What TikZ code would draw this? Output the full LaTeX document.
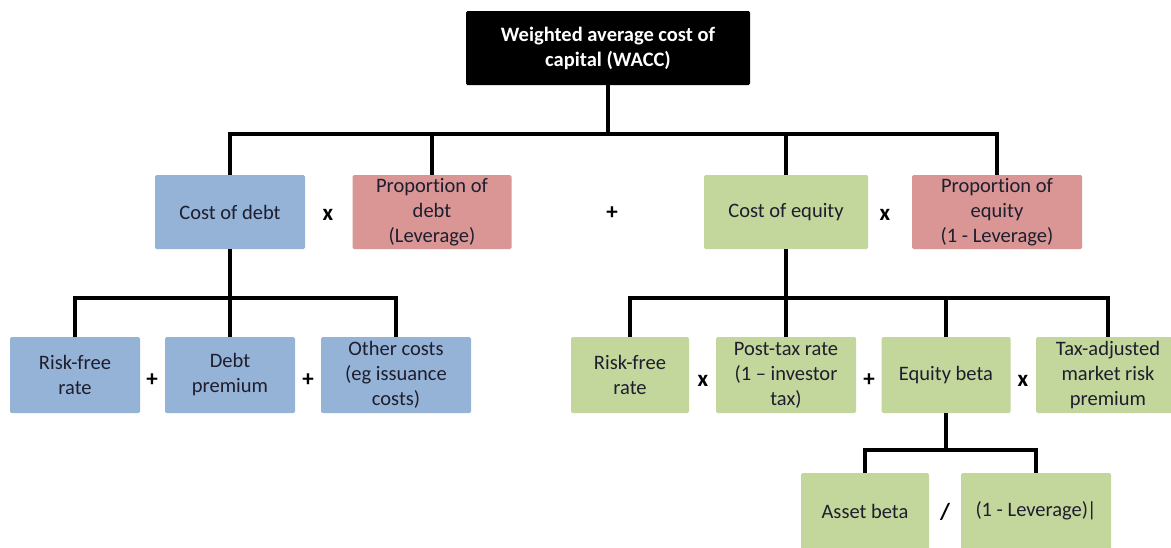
\documentclass[tikz,border=0pt]{standalone}
\usepackage{fontspec}
\setmainfont{Carlito}[Ligatures=NoCommon]
\usetikzlibrary{positioning}

\definecolor{debtblue}{HTML}{95B3D7}
\definecolor{propred}{HTML}{D99694}
\definecolor{eqgreen}{HTML}{C3D69B}
\definecolor{txt}{HTML}{1E1E2E}

\begin{document}
\begin{tikzpicture}[x=1pt,y=-1pt,
    box/.style={rectangle, rounded corners=1.5pt, inner sep=0pt, align=center,
      text=txt, font=\fontsize{20.5}{25}\selectfont},
    top/.style={box, minimum height=74},
    low/.style={box, minimum height=76},
    op/.style={font=\bfseries\fontsize{23}{23}\selectfont},
    tree/.style={to path={(\tikztostart.south) -- ++(0,#1) -| (\tikztotarget.north)}},
    link/.style={line width=4pt}]

  \useasboundingbox (0,0) rectangle (1171,547);

  \node[box, fill=black, text=white, minimum width=284, minimum height=74,
    font=\bfseries\fontsize{20.5}{25}\selectfont] (0) at (608,48) {Weighted average cost of\\capital (WACC)};

  % first level
  \node[top, fill=debtblue, minimum width=150] (1) at (230,212) {Cost of debt};
  \node[top, fill=propred, minimum width=159] (2) at (432,212) {Proportion of\\debt\\(Leverage)};
  \node[top, fill=eqgreen, minimum width=164] (3) at (786,212) {Cost of equity};
  \node[top, fill=propred, minimum width=170] (4) at (997,212) {Proportion of\\equity\\(1 - Leverage)};

  % second level
  \node[low, fill=debtblue, minimum width=130] (5) at (75,375) {Risk-free\\rate};
  \node[low, fill=debtblue, minimum width=130] (6) at (230,375) {Debt\\premium};
  \node[low, fill=debtblue, minimum width=150] (7) at (396,375) {Other costs\\(eg issuance\\costs)};
  \node[low, fill=eqgreen, minimum width=118] (8) at (630,375) {Risk-free\\rate};
  \node[low, fill=eqgreen, minimum width=140] (9) at (786,375) {Post-tax rate\\(1 – investor\\tax)};
  \node[low, fill=eqgreen, minimum width=129] (10) at (946,375) {Equity beta};
  \node[low, fill=eqgreen, minimum width=144] (11) at (1108,375) {Tax-adjusted\\market risk\\premium};

  % third level
  \node[low, fill=eqgreen, minimum width=128] (12) at (865,511) {Asset beta};
  \node[low, fill=eqgreen, minimum width=150] (13) at (1036,511) {(1 - Leverage)\kern-1pt|};

  % operators
  \node[op] (o1) at (328,215) {x};
  \node[op] (o2) at (612,213) {+};
  \node[op] (o3) at (885,215) {x};
  \node[op] (o4) at (152,380) {+};
  \node[op] (o5) at (308,380) {+};
  \node[op] (o6) at (703,381) {x};
  \node[op] (o7) at (869,380) {+};
  \node[op] (o8) at (1023,381) {x};
  \node[op] (o9) at (945,512) {/};

  \path[link]
  (0) edge[tree=49] (1)
  (0) edge[tree=49] (2)
  (0) edge[tree=49] (3)
  (0) edge[tree=49] (4)

  (1) edge[tree=49] (5)
  (1) edge[tree=49] (6)
  (1) edge[tree=49] (7)

  (3) edge[tree=49] (8)
  (3) edge[tree=49] (9)
  (3) edge[tree=49] (10)
  (3) edge[tree=49] (11)

  (10) edge[tree=37] (12)
  (10) edge[tree=37] (13)
  ;
\end{tikzpicture}
\end{document}
